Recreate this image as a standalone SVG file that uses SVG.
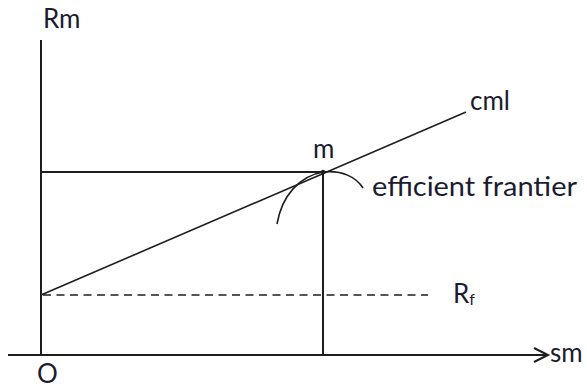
<svg xmlns="http://www.w3.org/2000/svg" width="587" height="389" viewBox="0 0 587 389">
<style>
.ln{stroke:#1e1e1e;stroke-width:2;fill:none}
.thin{stroke:#1e1e1e;stroke-width:1.6;fill:none}
.dash{stroke:#1e1e1e;stroke-width:1.6;fill:none;stroke-dasharray:8 5.5}
text{font-family:Lato,"Liberation Sans",Arial,sans-serif;font-size:26px;fill:#1c1c30}
</style>
<defs>
<marker id="arr" markerWidth="18" markerHeight="18" refX="15" refY="8" orient="auto" markerUnits="userSpaceOnUse">
<path d="M1,1 L15,8 L1,15" fill="none" stroke="#1e1e1e" stroke-width="2"/>
</marker>
</defs>
<rect width="587" height="389" fill="#fff"/>
<g id="connectors">
<line id="y-axis" class="ln" x1="41" y1="40" x2="41" y2="356"/>
<line id="x-axis" class="ln" x1="8" y1="355" x2="548" y2="355" marker-end="url(#arr)"/>
<line id="m-horizontal" class="ln" x1="41" y1="172" x2="323" y2="172"/>
<line id="m-vertical" class="ln" x1="323" y1="172" x2="323" y2="355"/>
<line id="rf-line" class="dash" x1="43" y1="295" x2="428" y2="295"/>
<line id="cml" class="thin" x1="41" y1="295" x2="466" y2="112"/>
<path id="frontier" class="thin" d="M277,224 C282,195 300,176 323,172 C342,170 356,177 363,188"/>
<circle cx="323" cy="172" r="2.2" fill="#1e1e1e"/>
</g>
<g id="label-rm"><text x="43" y="28">Rm</text></g>
<g id="label-cml"><text x="470" y="110">cml</text></g>
<g id="label-m"><text x="313" y="158">m</text></g>
<g id="label-ef"><text x="372" y="196" textLength="205" lengthAdjust="spacingAndGlyphs">efficient frantier</text></g>
<g id="label-rf"><text x="453" y="303">R<tspan font-size="16" dy="2">f</tspan></text></g>
<g id="label-sm"><text x="550" y="362">sm</text></g>
<g id="label-o"><text x="37" y="383">O</text></g>
</svg>
